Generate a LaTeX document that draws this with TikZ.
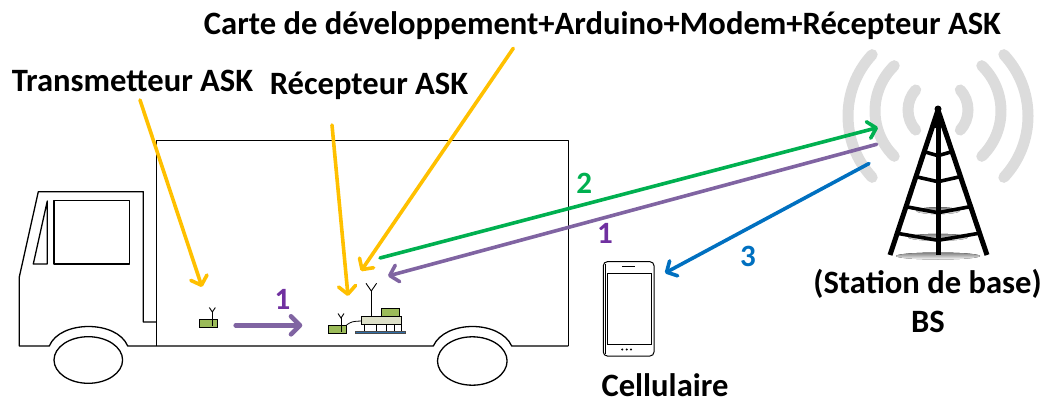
\documentclass[tikz,border=0pt]{standalone}
\usepackage{fontspec}
\setmainfont{Carlito}
\usetikzlibrary{arrows.meta}
\definecolor{ayellow}{HTML}{FFC000}
\definecolor{agreen}{HTML}{00B050}
\definecolor{apurple}{HTML}{8064A2}
\definecolor{lpurple}{HTML}{7030A0}
\definecolor{ablue}{HTML}{0070C0}
\definecolor{modgreen}{HTML}{9BBB59}
\definecolor{boardbg}{HTML}{DDE0C8}
\definecolor{basebl}{HTML}{2F6EA8}
\definecolor{wave}{HTML}{DCDCDC}
\definecolor{shade}{HTML}{EDEDED}
\begin{document}
\begin{tikzpicture}[x=1pt,y=-1pt,
  txt/.style={font=\fontsize{32.6}{38}\selectfont\bfseries, inner sep=0pt, anchor=base},
  num/.style={font=\fontsize{31}{36}\selectfont\bfseries, inner sep=0pt},
  truck/.style={line width=1.3pt, black, line join=round},
  module/.style={draw=black, line width=0.8pt, fill=modgreen},
  aerial/.style={line width=0.9pt, black},
  pointer/.style={ayellow, line width=3.6pt, line cap=round,
    -{Straight Barb[length=8pt,width=17pt,round]}},
  radio/.style={line width=3.6pt, line cap=round,
    -{Straight Barb[length=8pt,width=17pt,round]}},
  waveline/.style={wave, line width=11pt, line cap=round},
  beam/.style={line width=3.6pt, black, line cap=round}]
\useasboundingbox (0,0) rectangle (1044,404);

% ---------- radio waves around the tower ----------
\foreach \r/\a/\cy in {30/42/110, 63/46/111, 90/43/116}{
  \draw[waveline] (938,\cy) ++(180-\a:\r) arc[start angle=180-\a, end angle=180+\a, radius=\r];
  \draw[waveline] (938,\cy) ++(-\a:\r) arc[start angle=-\a, end angle=\a, radius=\r];
}

% ---------- tower ----------
\foreach \yy/\w in {206.7/22, 233.3/30, 252/42}{
  \fill[shade] (938,\yy+4) ellipse[x radius=\w, y radius=3.5];
}
\draw[line width=5pt, black, line join=round] (890,255) -- (938,110) -- (987,255);
\draw[line width=5pt, black] (938,110) -- (938,255);
\fill[black] (938,109) circle[radius=3.5];
\foreach \yy/\d in {125/2, 151.7/4, 176.7/5, 206.7/6, 233.3/7}{
  \pgfmathsetmacro\dx{48*(\yy-110)/145}
  \draw[beam] (938-\dx,\yy) -- (938,\yy+\d) -- (938+\dx,\yy);
}

% ---------- truck ----------
\draw[truck] (156.7,322) -- (143.3,322) -- (143.3,191.7) -- (38.3,191.7)
  -- (19.3,277) -- (19.3,346) -- (49.3,346)
  .. controls (60,320) and (117,320) .. (127.7,346) -- (433.3,346)
  .. controls (445,320) and (500,320) .. (511.7,346) -- (568.3,346);
\draw[truck, line width=1.2pt] (156.7,346) -- (156.7,140.3) -- (568.3,140.3) -- (568.3,346);
\draw[truck] (54,200.7) rectangle (129.3,264);
\draw[truck] (33.3,264) -- (47.3,201) -- (47.3,264) -- cycle;
\draw[truck] (88.3,360) ellipse[x radius=34.3, y radius=23.3];
\draw[truck] (472.3,361) ellipse[x radius=34.8, y radius=24.2];

% ---------- ASK transmitter ----------
\draw[module] (199.3,319.3) rectangle (217.3,327.3);
\draw[aerial] (212.3,311) -- (212.3,326);
\draw[aerial] (209.3,307.5) -- (212.3,312) -- (215.3,307.5);
\coordinate (tx) at (202,287);

% ---------- ASK receiver and development board ----------
\draw[module] (328.3,325.3) rectangle (346.7,333.3);
\draw[aerial] (341,317) -- (341,332);
\draw[aerial] (338,313.5) -- (341,318) -- (344,313.5);
\draw[line width=0.8pt] (346.7,324.8) .. controls (352,321.5) .. (361,321);
\draw[draw=black, line width=0.8pt, fill=boardbg] (361,316) rectangle (401.3,324.3);
\draw[module] (381.7,308) rectangle (399.7,316);
\foreach \lx in {364.3,376.7,386.7,394,401.3}{
  \draw[line width=0.8pt] (\lx,324.3) -- (\lx,331.3);
}
\draw[draw=black!70, line width=0.5pt, fill=basebl] (355.3,331.3) rectangle (405.3,333.6);
\draw[aerial] (371.3,290) -- (371.3,316);
\draw[aerial] (366,283.3) -- (371.3,291) -- (376.6,283.3);
\coordinate (rx) at (348,296);
\coordinate (board) at (361,271);
\coordinate (boardout) at (380,258);
\coordinate (boardin) at (388,276);

% ---------- phone ----------
\draw[line width=1pt, rounded corners=4pt] (603.3,261.7) rectangle (654,356);
\draw[line width=0.6pt, rounded corners=3pt] (605.3,263.5) -- (605.3,354);
\draw[line width=0.8pt] (607.7,273.3) rectangle (651,344);
\draw[line width=1pt] (622.3,266.7) -- (635,266.7);
\foreach \dx in {622.3,626.7,631}{ \fill (\dx,349.5) circle[radius=1.1]; }
\coordinate (phone) at (665,273);

% ---------- base station endpoints ----------
\coordinate (bsin) at (878,127.5);
\coordinate (bsout) at (876.7,144.3);
\coordinate (bsdown) at (869,163.5);

% ---------- labels ----------
\node[txt] (carte) at (602.5,34.3) {Carte de développement+Arduino+Modem+Récepteur ASK};
\node[txt] (tlabel) at (132.5,91.7) {Transmetteur ASK};
\node[txt] (rlabel) at (369,95) {Récepteur ASK};
\node[txt] (bslabel) at (927.5,293.3) {(Station de base)};
\node[txt] (bs) at (928,332.7) {BS};
\node[txt] (cell) at (665,396) {Cellulaire};

% ---------- yellow pointers ----------
\coordinate (tstart) at (140,100);
\coordinate (rstart) at (332,125);
\coordinate (cstart) at (513.3,48.3);
\draw[pointer] (tstart) -- (tx);
\draw[pointer] (rstart) -- (rx);
\draw[pointer] (cstart) -- (board);

% ---------- radio links ----------
\coordinate (shortstart) at (235.7,325.3);
\coordinate (shortend) at (302.3,325.3);
\draw[radio, apurple, line width=4.6pt, -{Straight Barb[length=9pt,width=18pt,round]}] (shortstart) -- (shortend);
\draw[radio, agreen] (boardout) -- (bsin);
\draw[radio, apurple] (bsout) -- (boardin);
\draw[radio, ablue] (bsdown) -- (phone);

\node[num, text=lpurple] (n1a) at (282.5,299) {1};
\node[num, text=agreen] (n2) at (584.3,183.3) {2};
\node[num, text=lpurple] (n1b) at (605,233.3) {1};
\node[num, text=ablue] (n3) at (748,256) {3};
\end{tikzpicture}
\end{document}
